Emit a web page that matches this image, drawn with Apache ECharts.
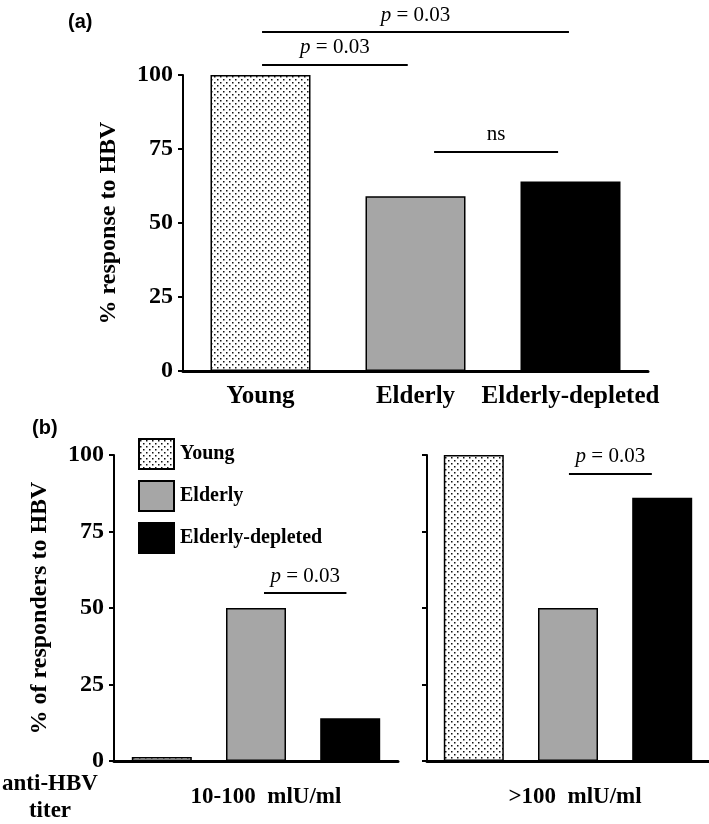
<!DOCTYPE html>
<html>
<head>
<meta charset="utf-8">
<script src="https://cdn.jsdelivr.net/npm/echarts@6/dist/echarts.min.js"></script>
<style>
  html, body { margin: 0; padding: 0; background: #fff; }
  #chart { width: 709px; height: 824px; }
</style>
</head>
<body>
<div id="chart"></div>
<script>
  // data
  const groups = ['Young', 'Elderly', 'Elderly-depleted'];
  const responseA = [100, 59, 64];
  const titerLabels = ['10-100  mlU/ml', '>100  mlU/ml'];
  const respondersLow = [1.3, 50, 14];
  const respondersHigh = [100, 50, 86];
  // significance bars: level on the y axis and the text above
  const sigLevels = [114.5, 103.4, 74, 54.9, 93.8];
  const sigLabels = ['p = 0.03', 'p = 0.03', 'ns', 'p = 0.03', 'p = 0.03'];

  const serif = 'Liberation Serif, Times New Roman, serif';

  function dotPattern() {
    const c = document.createElement('canvas');
    c.width = 6; c.height = 6;
    const ctx = c.getContext('2d');
    ctx.fillStyle = '#fff';
    ctx.fillRect(0, 0, 6, 6);
    ctx.fillStyle = '#111';
    ctx.fillRect(1, 1, 1.5, 1.5);
    ctx.fillRect(4, 4, 1.5, 1.5);
    return c;
  }
  const fills = [{ image: dotPattern(), repeat: 'repeat' }, '#a6a6a6', '#000'];

  function yAxis(grid, name, showLabel) {
    return {
      gridIndex: grid, type: 'value', min: 0, max: 100, interval: 25,
      axisLine: { show: true, lineStyle: { color: '#000', width: 2 } },
      axisTick: { show: true, length: 5, lineStyle: { color: '#000', width: 2 } },
      axisLabel: { show: showLabel, color: '#000', fontFamily: serif, fontWeight: 'bold', fontSize: 24, margin: 10 },
      splitLine: { show: false },
      name: name, nameLocation: 'middle', nameGap: 62,
      nameTextStyle: { color: '#000', fontFamily: serif, fontWeight: 'bold', fontSize: 24 }
    };
  }
  function xAxis(grid, data, margin, size, padLeft) {
    return {
      gridIndex: grid, type: 'category', data: data,
      axisLine: { show: true, lineStyle: { color: '#000', width: 3 } },
      axisTick: { show: false },
      axisLabel: {
        interval: 0, hideOverlap: false, color: '#000', fontFamily: serif, fontWeight: 'bold',
        fontSize: size, margin: margin, padding: [0, 0, 0, padLeft]
      }
    };
  }

  const series = [{
    name: 'response', type: 'bar', xAxisIndex: 0, yAxisIndex: 0, barWidth: 100,
    data: responseA.map((v, i) => ({ value: v, itemStyle: { color: fills[i] } })),
    itemStyle: { borderColor: '#000', borderWidth: 1.5 }
  }];
  [respondersLow, respondersHigh].forEach((vals, k) => {
    groups.forEach((g, i) => {
      series.push({
        name: g, type: 'bar', xAxisIndex: k + 1, yAxisIndex: k + 1,
        barWidth: 60, barGap: '57%',
        data: [vals[i]],
        itemStyle: { color: fills[i], borderColor: '#000', borderWidth: 1.5 }
      });
    });
  });

  const chart = echarts.init(document.getElementById('chart'));
  chart.setOption({
    animation: false,
    grid: [
      { left: 183, right: 61, top: 75, height: 296 },
      { left: 114, width: 284, top: 455, height: 306 },
      { left: 427, width: 282, top: 455, height: 306 }
    ],
    xAxis: [
      xAxis(0, groups, 13, 25, 0),
      xAxis(1, [titerLabels[0]], 25, 23, 20),
      xAxis(2, [titerLabels[1]], 25, 23, 14)
    ],
    yAxis: [
      yAxis(0, '% response to HBV', true),
      yAxis(1, '% of responders to HBV', true),
      yAxis(2, '', false)
    ],
    legend: {
      data: groups, orient: 'vertical', left: 133, top: 433,
      itemWidth: 35, itemHeight: 30, itemGap: 10, selectedMode: false,
      icon: 'rect',
      textStyle: { color: '#000', fontFamily: serif, fontWeight: 'bold', fontSize: 20, padding: [0, 0, 0, 1] }
    },
    series: series
  });

  // significance bars, placed from the bar layouts and the y scales
  function barCenter(s, i) {
    const l = chart.getModel().getSeriesByIndex(s).getData().getItemLayout(i);
    return l.x + l.width / 2;
  }
  const sigSpec = [
    { grid: 0, a: [0, 0], b: [0, 2], t: [0.005, 0.995] },
    { grid: 0, a: [0, 0], b: [0, 1], t: [0.01, 0.95] },
    { grid: 0, a: [0, 1], b: [0, 2], t: [0.12, 0.92] },
    { grid: 1, a: [2, 0], b: [3, 0], t: [0.085, 0.96] },
    { grid: 2, a: [5, 0], b: [6, 0], t: [0.01, 0.89] }
  ];
  const graphic = [];
  sigSpec.forEach((s, k) => {
    const ca = barCenter(s.a[0], s.a[1]);
    const cb = barCenter(s.b[0], s.b[1]);
    const x1 = ca + (cb - ca) * s.t[0];
    const x2 = ca + (cb - ca) * s.t[1];
    const y = chart.convertToPixel({ yAxisIndex: s.grid }, sigLevels[k]);
    graphic.push({ type: 'line', shape: { x1: x1, y1: y, x2: x2, y2: y }, style: { stroke: '#000', lineWidth: 2 } });
    const txt = sigLabels[k].startsWith('p') ? '{i|p}' + sigLabels[k].slice(1) : sigLabels[k];
    graphic.push({
      type: 'text', x: (x1 + x2) / 2, y: y - 17,
      style: {
        text: txt, align: 'center', verticalAlign: 'middle', fill: '#000',
        fontFamily: serif, fontSize: 21,
        rich: { i: { fontStyle: 'italic', fontFamily: serif, fontSize: 21 } }
      }
    });
  });
  graphic.push(
    { type: 'text', x: 68, y: 22, style: { text: '(a)', fill: '#000', fontFamily: 'Liberation Sans, Arial', fontWeight: 'bold', fontSize: 20, verticalAlign: 'middle' } },
    { type: 'text', x: 32, y: 428, style: { text: '(b)', fill: '#000', fontFamily: 'Liberation Sans, Arial', fontWeight: 'bold', fontSize: 20, verticalAlign: 'middle' } },
    { type: 'text', x: 50, y: 784, style: { text: 'anti-HBV', fill: '#000', fontFamily: serif, fontWeight: 'bold', fontSize: 23, align: 'center', verticalAlign: 'middle' } },
    { type: 'text', x: 50, y: 811, style: { text: 'titer', fill: '#000', fontFamily: serif, fontWeight: 'bold', fontSize: 23, align: 'center', verticalAlign: 'middle' } }
  );
  chart.setOption({ graphic: graphic });
</script>
</body>
</html>
